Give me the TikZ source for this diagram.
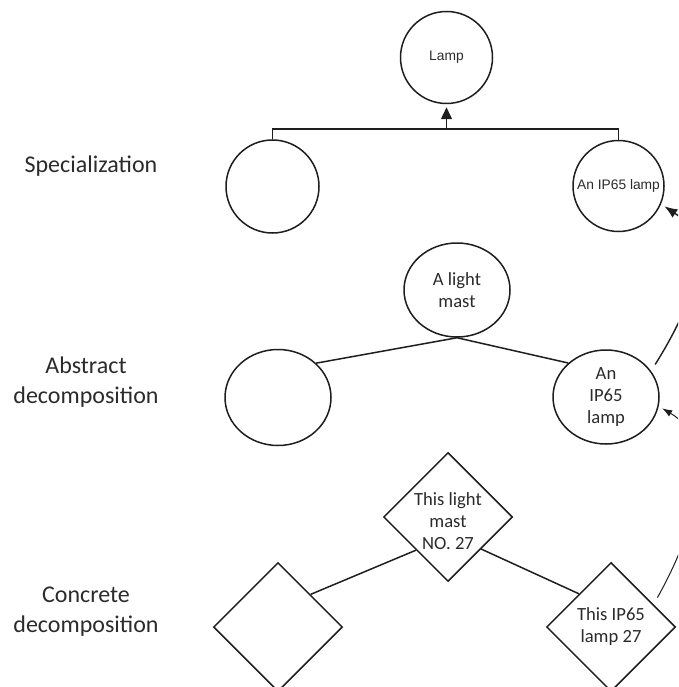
\documentclass[tikz,border=0pt]{standalone}
\usepackage{fontspec}
\setmainfont{Carlito}
\newfontfamily\arialfont{Liberation Sans}
\usetikzlibrary{shapes.geometric,arrows.meta}

\definecolor{ink}{HTML}{1E1E1E}
\definecolor{txtgray}{HTML}{2B2B2B}

\tikzset{
  shapeline/.style={draw=ink, line width=1.5pt, fill=white},
  circ/.style={shapeline, circle, inner sep=0pt, minimum size=#1},
  ell/.style={shapeline, ellipse, inner sep=0pt, minimum width=106pt, minimum height=94pt},
  diam/.style={shapeline, diamond, inner sep=0pt, minimum width=129pt, minimum height=129pt},
  edge/.style={draw=ink, line width=1.5pt},
  sidelabel/.style={font=\fontsize{24}{30}\selectfont, text=txtgray, align=center},
  intxt/.style={font=\fontsize{18.6}{22}\selectfont, text=txtgray, align=center},
  artxt/.style={font=\arialfont\fontsize{13.8}{16}\selectfont, text=txtgray},
  loop/.style={draw=ink, line width=#1, line cap=round},
}

\begin{document}
\begin{tikzpicture}[x=1pt, y=-1pt]
\useasboundingbox (0,0) rectangle (678,687);
\clip (0,0) rectangle (678,687);

% row captions
\node[sidelabel] (capspec) at (91,166) {Specialization};
\node[sidelabel] (capabs)  at (86,382) {Abstract\\decomposition};
\node[sidelabel] (capcon)  at (86,612) {Concrete\\decomposition};

% specialization row
\node[circ=92pt, artxt] (lamp) at (446.5,57.5) {Lamp};
\node[circ=93pt] (specL) at (272.5,186.5) {};
\node[circ=91pt, artxt] (specR) at (618.5,186) {An IP65 lamp};
\coordinate (join) at (446.5,129);
\draw[edge] (specL.north) -- (specL.north |- join) -- (specR.north |- join) -- (specR.north);
\draw[edge, -{Triangle[length=12pt,width=11pt]}, shorten >=3pt] (join) -- (lamp.south);

% abstract decomposition row
\node[ell, label={[intxt]center:A light\\mast}] (mast) at (457,290) {};
\node[ell, minimum height=96pt] (absL) at (278,397.5) {};
\node[ell, label={[intxt]center:An\\IP65\\lamp}] (absR) at (606,397) {};
\draw[edge] (absL.42) -- (mast.south) -- (absR.138);

% concrete decomposition row
\node[diam, label={[intxt, yshift=-4pt]center:This light\\mast\\NO. 27}] (thismast) at (448,517) {};
\node[diam] (conL) at (278,627) {};
\node[diam, label={[intxt]center:This IP65\\lamp 27}] (conR) at (611,627) {};
\draw[edge] (thismast.226) -- (conL.45);
\draw[edge] (thismast.316) -- (conR.134);

% links between the rows, running out past the right edge
\draw[loop=1.4pt, -{Latex[length=13pt,width=10pt]}, shorten <=8pt, shorten >=4pt]
  (absR.30) .. controls (700,293) and (712,238) .. (specR.-23);
\draw[loop=1pt, -{Latex[length=10pt,width=7pt]}, shorten <=8pt, shorten >=4pt]
  (conR.28) .. controls (702,518) and (716,440) .. (absR.-10);
\end{tikzpicture}
\end{document}
